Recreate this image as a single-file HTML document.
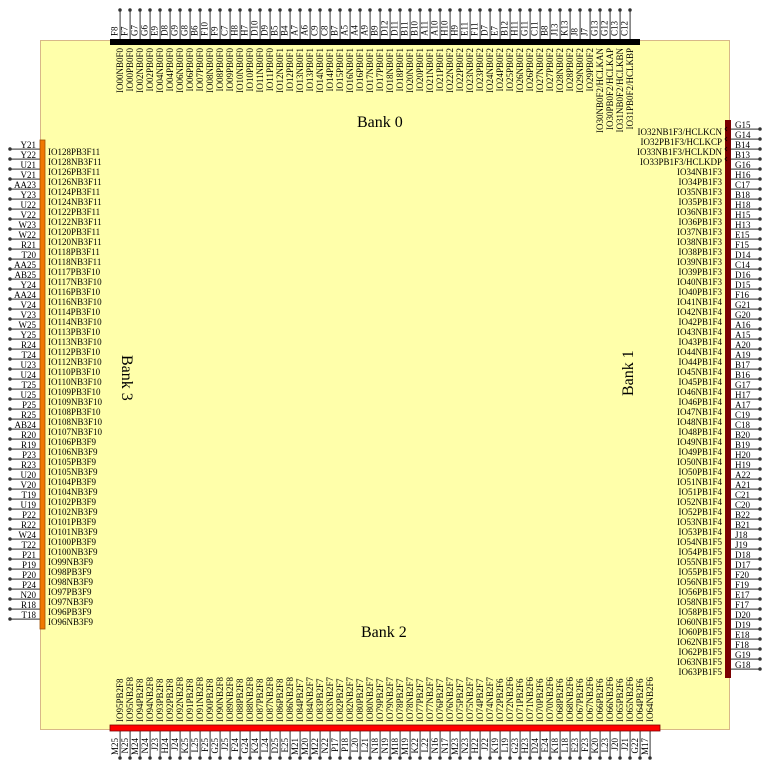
<!DOCTYPE html>
<html><head><meta charset="utf-8"><style>
html,body{margin:0;padding:0;background:#fff;width:770px;height:770px;overflow:hidden}
svg{display:block}
text{font-family:"Liberation Serif",serif;font-size:9px;fill:#000}
.bk{font-size:16px}
</style></head><body>
<svg width="770" height="770" viewBox="0 0 770 770" xmlns="http://www.w3.org/2000/svg">
<rect x="40.5" y="40.5" width="689" height="689" fill="#ffffaa" stroke="#d8b888" stroke-width="1"/>
<!-- pin lines via dash patterns -->
<g stroke="#555">
<line x1="119.5" y1="25" x2="631" y2="25" stroke-width="30" stroke-dasharray="1.2 8.8"/>
<line x1="119.5" y1="744" x2="651" y2="744" stroke-width="28" stroke-dasharray="1.2 8.8"/>
<line x1="25" y1="148.5" x2="25" y2="621" stroke-width="30" stroke-dasharray="1.2 8.8"/>
<line x1="745" y1="128.5" x2="745" y2="671" stroke-width="29" stroke-dasharray="1.2 8.8"/>
</g>
<g stroke="#333" stroke-linecap="round" stroke-width="3.5">
<line x1="120" y1="10" x2="631" y2="10" stroke-dasharray="0 10"/>
<line x1="120" y1="758" x2="651" y2="758" stroke-dasharray="0 10"/>
<line x1="10" y1="149" x2="10" y2="621" stroke-dasharray="0 10"/>
<line x1="760" y1="129" x2="760" y2="671" stroke-dasharray="0 10"/>
</g>
<!-- bars -->
<rect x="110" y="39" width="530" height="6" fill="#000"/>
<rect x="40" y="140" width="5" height="489" fill="#f07800" stroke="#a05000" stroke-width="0.8"/>
<rect x="725" y="120" width="6" height="558" fill="#7a0000"/>
<rect x="110" y="725" width="550" height="6" fill="#ff0000" stroke="#800000" stroke-width="0.8"/>
<g fill="none" stroke="#000" stroke-width="0.8">
<path d="M727 127l-2 2 2 2M727 137l-2 2 2 2M727 147l-2 2 2 2M727 157l-2 2 2 2"/>
</g>
<!-- bank labels -->
<text class="bk" x="357" y="127">Bank 0</text>
<text class="bk" x="361" y="637">Bank 2</text>
<text class="bk" transform="translate(122,355) rotate(90)">Bank 3</text>
<text class="bk" transform="translate(633,396) rotate(-90)">Bank 1</text>
<!-- top -->
<g transform="rotate(-90)">
<text text-anchor="start"><tspan x="-36" y="117.5">F8</tspan><tspan x="-36" y="127.5">F7</tspan><tspan x="-36" y="137.5">G7</tspan><tspan x="-36" y="147.5">G6</tspan><tspan x="-36" y="157.5">E9</tspan><tspan x="-36" y="167.5">D8</tspan><tspan x="-36" y="177.5">G9</tspan><tspan x="-36" y="187.5">G8</tspan><tspan x="-36" y="197.5">B6</tspan><tspan x="-36" y="207.5">F10</tspan><tspan x="-36" y="217.5">F9</tspan><tspan x="-36" y="227.5">C7</tspan><tspan x="-36" y="237.5">H8</tspan><tspan x="-36" y="247.5">H7</tspan><tspan x="-36" y="257.5">D10</tspan><tspan x="-36" y="267.5">D9</tspan><tspan x="-36" y="277.5">B5</tspan><tspan x="-36" y="287.5">B4</tspan><tspan x="-36" y="297.5">A7</tspan><tspan x="-36" y="307.5">A6</tspan><tspan x="-36" y="317.5">C9</tspan><tspan x="-36" y="327.5">C8</tspan><tspan x="-36" y="337.5">B7</tspan><tspan x="-36" y="347.5">A5</tspan><tspan x="-36" y="357.5">A4</tspan><tspan x="-36" y="367.5">A9</tspan><tspan x="-36" y="377.5">B9</tspan><tspan x="-36" y="387.5">D12</tspan><tspan x="-36" y="397.5">D11</tspan><tspan x="-36" y="407.5">B11</tspan><tspan x="-36" y="417.5">B10</tspan><tspan x="-36" y="427.5">A11</tspan><tspan x="-36" y="437.5">A10</tspan><tspan x="-36" y="447.5">H10</tspan><tspan x="-36" y="457.5">H9</tspan><tspan x="-36" y="467.5">E11</tspan><tspan x="-36" y="477.5">F11</tspan><tspan x="-36" y="487.5">D7</tspan><tspan x="-36" y="497.5">E7</tspan><tspan x="-36" y="507.5">B12</tspan><tspan x="-36" y="517.5">H11</tspan><tspan x="-36" y="527.5">G11</tspan><tspan x="-36" y="537.5">C11</tspan><tspan x="-36" y="547.5">B8</tspan><tspan x="-36" y="557.5">J13</tspan><tspan x="-36" y="567.5">K13</tspan><tspan x="-36" y="577.5">J8</tspan><tspan x="-36" y="587.5">J7</tspan><tspan x="-36" y="597.5">G13</tspan><tspan x="-36" y="607.5">G12</tspan><tspan x="-36" y="617.5">C13</tspan><tspan x="-36" y="627.5">C12</tspan></text>
<text text-anchor="end"><tspan x="-48" y="123">IO00NB0F0</tspan><tspan x="-48" y="133">IO00PB0F0</tspan><tspan x="-48" y="143">IO02NB0F0</tspan><tspan x="-48" y="153">IO02PB0F0</tspan><tspan x="-48" y="163">IO04NB0F0</tspan><tspan x="-48" y="173">IO04PB0F0</tspan><tspan x="-48" y="183">IO06NB0F0</tspan><tspan x="-48" y="193">IO06PB0F0</tspan><tspan x="-48" y="203">IO07PB0F0</tspan><tspan x="-48" y="213">IO08NB0F0</tspan><tspan x="-48" y="223">IO08PB0F0</tspan><tspan x="-48" y="233">IO09PB0F0</tspan><tspan x="-48" y="243">IO10NB0F0</tspan><tspan x="-48" y="253">IO10PB0F0</tspan><tspan x="-48" y="263">IO11NB0F0</tspan><tspan x="-48" y="273">IO11PB0F0</tspan><tspan x="-48" y="283">IO12NB0F1</tspan><tspan x="-48" y="293">IO12PB0F1</tspan><tspan x="-48" y="303">IO13NB0F1</tspan><tspan x="-48" y="313">IO13PB0F1</tspan><tspan x="-48" y="323">IO14NB0F1</tspan><tspan x="-48" y="333">IO14PB0F1</tspan><tspan x="-48" y="343">IO15PB0F1</tspan><tspan x="-48" y="353">IO16NB0F1</tspan><tspan x="-48" y="363">IO16PB0F1</tspan><tspan x="-48" y="373">IO17NB0F1</tspan><tspan x="-48" y="383">IO17PB0F1</tspan><tspan x="-48" y="393">IO18NB0F1</tspan><tspan x="-48" y="403">IO18PB0F1</tspan><tspan x="-48" y="413">IO20NB0F1</tspan><tspan x="-48" y="423">IO20PB0F1</tspan><tspan x="-48" y="433">IO21NB0F1</tspan><tspan x="-48" y="443">IO21PB0F1</tspan><tspan x="-48" y="453">IO22NB0F2</tspan><tspan x="-48" y="463">IO22PB0F2</tspan><tspan x="-48" y="473">IO23NB0F2</tspan><tspan x="-48" y="483">IO23PB0F2</tspan><tspan x="-48" y="493">IO24NB0F2</tspan><tspan x="-48" y="503">IO24PB0F2</tspan><tspan x="-48" y="513">IO25PB0F2</tspan><tspan x="-48" y="523">IO26NB0F2</tspan><tspan x="-48" y="533">IO26PB0F2</tspan><tspan x="-48" y="543">IO27NB0F2</tspan><tspan x="-48" y="553">IO27PB0F2</tspan><tspan x="-48" y="563">IO28NB0F2</tspan><tspan x="-48" y="573">IO28PB0F2</tspan><tspan x="-48" y="583">IO29NB0F2</tspan><tspan x="-48" y="593">IO29PB0F2</tspan><tspan x="-48" y="603">IO30NB0F2/HCLKAN</tspan><tspan x="-48" y="613">IO30PB0F2/HCLKAP</tspan><tspan x="-48" y="623">IO31NB0F2/HCLKBN</tspan><tspan x="-48" y="633">IO31PB0F2/HCLKBP</tspan></text>
<!-- bottom -->
<text text-anchor="end"><tspan x="-738" y="118">M25</tspan><tspan x="-738" y="128">N25</tspan><tspan x="-738" y="138">M24</tspan><tspan x="-738" y="148">N24</tspan><tspan x="-738" y="158">J23</tspan><tspan x="-738" y="168">H24</tspan><tspan x="-738" y="178">J24</tspan><tspan x="-738" y="188">K25</tspan><tspan x="-738" y="198">L25</tspan><tspan x="-738" y="208">F25</tspan><tspan x="-738" y="218">G25</tspan><tspan x="-738" y="228">J25</tspan><tspan x="-738" y="238">F24</tspan><tspan x="-738" y="248">G24</tspan><tspan x="-738" y="258">K24</tspan><tspan x="-738" y="268">L24</tspan><tspan x="-738" y="278">D25</tspan><tspan x="-738" y="288">E25</tspan><tspan x="-738" y="298">M21</tspan><tspan x="-738" y="308">M20</tspan><tspan x="-738" y="318">M22</tspan><tspan x="-738" y="328">N22</tspan><tspan x="-738" y="338">P17</tspan><tspan x="-738" y="348">P18</tspan><tspan x="-738" y="358">L20</tspan><tspan x="-738" y="368">L21</tspan><tspan x="-738" y="378">N18</tspan><tspan x="-738" y="388">N19</tspan><tspan x="-738" y="398">M18</tspan><tspan x="-738" y="408">M19</tspan><tspan x="-738" y="418">K22</tspan><tspan x="-738" y="428">L22</tspan><tspan x="-738" y="438">N16</tspan><tspan x="-738" y="448">N17</tspan><tspan x="-738" y="458">M23</tspan><tspan x="-738" y="468">N23</tspan><tspan x="-738" y="478">H22</tspan><tspan x="-738" y="488">J22</tspan><tspan x="-738" y="498">K19</tspan><tspan x="-738" y="508">L19</tspan><tspan x="-738" y="518">G23</tspan><tspan x="-738" y="528">H23</tspan><tspan x="-738" y="538">D24</tspan><tspan x="-738" y="548">E24</tspan><tspan x="-738" y="558">K18</tspan><tspan x="-738" y="568">L18</tspan><tspan x="-738" y="578">E23</tspan><tspan x="-738" y="588">F23</tspan><tspan x="-738" y="598">K20</tspan><tspan x="-738" y="608">L23</tspan><tspan x="-738" y="618">J20</tspan><tspan x="-738" y="628">J21</tspan><tspan x="-738" y="638">G22</tspan><tspan x="-738" y="648">M17</tspan></text>
<text text-anchor="start"><tspan x="-722" y="123">IO95PB2F8</tspan><tspan x="-722" y="133">IO95NB2F8</tspan><tspan x="-722" y="143">IO94PB2F8</tspan><tspan x="-722" y="153">IO94NB2F8</tspan><tspan x="-722" y="163">IO93PB2F8</tspan><tspan x="-722" y="173">IO92PB2F8</tspan><tspan x="-722" y="183">IO92NB2F8</tspan><tspan x="-722" y="193">IO91PB2F8</tspan><tspan x="-722" y="203">IO91NB2F8</tspan><tspan x="-722" y="213">IO90PB2F8</tspan><tspan x="-722" y="223">IO90NB2F8</tspan><tspan x="-722" y="233">IO89NB2F8</tspan><tspan x="-722" y="243">IO88PB2F8</tspan><tspan x="-722" y="253">IO88NB2F8</tspan><tspan x="-722" y="263">IO87PB2F8</tspan><tspan x="-722" y="273">IO87NB2F8</tspan><tspan x="-722" y="283">IO86PB2F8</tspan><tspan x="-722" y="293">IO86NB2F8</tspan><tspan x="-722" y="303">IO84PB2F7</tspan><tspan x="-722" y="313">IO84NB2F7</tspan><tspan x="-722" y="323">IO83PB2F7</tspan><tspan x="-722" y="333">IO83NB2F7</tspan><tspan x="-722" y="343">IO82PB2F7</tspan><tspan x="-722" y="353">IO82NB2F7</tspan><tspan x="-722" y="363">IO80PB2F7</tspan><tspan x="-722" y="373">IO80NB2F7</tspan><tspan x="-722" y="383">IO79PB2F7</tspan><tspan x="-722" y="393">IO79NB2F7</tspan><tspan x="-722" y="403">IO78PB2F7</tspan><tspan x="-722" y="413">IO78NB2F7</tspan><tspan x="-722" y="423">IO77PB2F7</tspan><tspan x="-722" y="433">IO77NB2F7</tspan><tspan x="-722" y="443">IO76PB2F7</tspan><tspan x="-722" y="453">IO76NB2F7</tspan><tspan x="-722" y="463">IO75PB2F7</tspan><tspan x="-722" y="473">IO75NB2F7</tspan><tspan x="-722" y="483">IO74PB2F7</tspan><tspan x="-722" y="493">IO74NB2F7</tspan><tspan x="-722" y="503">IO72PB2F6</tspan><tspan x="-722" y="513">IO72NB2F6</tspan><tspan x="-722" y="523">IO71PB2F6</tspan><tspan x="-722" y="533">IO71NB2F6</tspan><tspan x="-722" y="543">IO70PB2F6</tspan><tspan x="-722" y="553">IO70NB2F6</tspan><tspan x="-722" y="563">IO68PB2F6</tspan><tspan x="-722" y="573">IO68NB2F6</tspan><tspan x="-722" y="583">IO67PB2F6</tspan><tspan x="-722" y="593">IO67NB2F6</tspan><tspan x="-722" y="603">IO66PB2F6</tspan><tspan x="-722" y="613">IO66NB2F6</tspan><tspan x="-722" y="623">IO65PB2F6</tspan><tspan x="-722" y="633">IO65NB2F6</tspan><tspan x="-722" y="643">IO64PB2F6</tspan><tspan x="-722" y="653">IO64NB2F6</tspan></text>
</g>
<!-- left -->
<text text-anchor="end"><tspan x="36" y="148">Y21</tspan><tspan x="36" y="158">Y22</tspan><tspan x="36" y="168">U21</tspan><tspan x="36" y="178">V21</tspan><tspan x="36" y="188">AA23</tspan><tspan x="36" y="198">Y23</tspan><tspan x="36" y="208">U22</tspan><tspan x="36" y="218">V22</tspan><tspan x="36" y="228">W23</tspan><tspan x="36" y="238">W22</tspan><tspan x="36" y="248">R21</tspan><tspan x="36" y="258">T20</tspan><tspan x="36" y="268">AA25</tspan><tspan x="36" y="278">AB25</tspan><tspan x="36" y="288">Y24</tspan><tspan x="36" y="298">AA24</tspan><tspan x="36" y="308">V24</tspan><tspan x="36" y="318">V23</tspan><tspan x="36" y="328">W25</tspan><tspan x="36" y="338">Y25</tspan><tspan x="36" y="348">R24</tspan><tspan x="36" y="358">T24</tspan><tspan x="36" y="368">U23</tspan><tspan x="36" y="378">U24</tspan><tspan x="36" y="388">T25</tspan><tspan x="36" y="398">U25</tspan><tspan x="36" y="408">P25</tspan><tspan x="36" y="418">R25</tspan><tspan x="36" y="428">AB24</tspan><tspan x="36" y="438">R20</tspan><tspan x="36" y="448">R19</tspan><tspan x="36" y="458">P23</tspan><tspan x="36" y="468">R23</tspan><tspan x="36" y="478">U20</tspan><tspan x="36" y="488">V20</tspan><tspan x="36" y="498">T19</tspan><tspan x="36" y="508">U19</tspan><tspan x="36" y="518">P22</tspan><tspan x="36" y="528">R22</tspan><tspan x="36" y="538">W24</tspan><tspan x="36" y="548">T22</tspan><tspan x="36" y="558">P21</tspan><tspan x="36" y="568">P19</tspan><tspan x="36" y="578">P20</tspan><tspan x="36" y="588">P24</tspan><tspan x="36" y="598">N20</tspan><tspan x="36" y="608">R18</tspan><tspan x="36" y="618">T18</tspan></text>
<text text-anchor="start"><tspan x="48" y="155">IO128PB3F11</tspan><tspan x="48" y="165">IO128NB3F11</tspan><tspan x="48" y="175">IO126PB3F11</tspan><tspan x="48" y="185">IO126NB3F11</tspan><tspan x="48" y="195">IO124PB3F11</tspan><tspan x="48" y="205">IO124NB3F11</tspan><tspan x="48" y="215">IO122PB3F11</tspan><tspan x="48" y="225">IO122NB3F11</tspan><tspan x="48" y="235">IO120PB3F11</tspan><tspan x="48" y="245">IO120NB3F11</tspan><tspan x="48" y="255">IO118PB3F11</tspan><tspan x="48" y="265">IO118NB3F11</tspan><tspan x="48" y="275">IO117PB3F10</tspan><tspan x="48" y="285">IO117NB3F10</tspan><tspan x="48" y="295">IO116PB3F10</tspan><tspan x="48" y="305">IO116NB3F10</tspan><tspan x="48" y="315">IO114PB3F10</tspan><tspan x="48" y="325">IO114NB3F10</tspan><tspan x="48" y="335">IO113PB3F10</tspan><tspan x="48" y="345">IO113NB3F10</tspan><tspan x="48" y="355">IO112PB3F10</tspan><tspan x="48" y="365">IO112NB3F10</tspan><tspan x="48" y="375">IO110PB3F10</tspan><tspan x="48" y="385">IO110NB3F10</tspan><tspan x="48" y="395">IO109PB3F10</tspan><tspan x="48" y="405">IO109NB3F10</tspan><tspan x="48" y="415">IO108PB3F10</tspan><tspan x="48" y="425">IO108NB3F10</tspan><tspan x="48" y="435">IO107NB3F10</tspan><tspan x="48" y="445">IO106PB3F9</tspan><tspan x="48" y="455">IO106NB3F9</tspan><tspan x="48" y="465">IO105PB3F9</tspan><tspan x="48" y="475">IO105NB3F9</tspan><tspan x="48" y="485">IO104PB3F9</tspan><tspan x="48" y="495">IO104NB3F9</tspan><tspan x="48" y="505">IO102PB3F9</tspan><tspan x="48" y="515">IO102NB3F9</tspan><tspan x="48" y="525">IO101PB3F9</tspan><tspan x="48" y="535">IO101NB3F9</tspan><tspan x="48" y="545">IO100PB3F9</tspan><tspan x="48" y="555">IO100NB3F9</tspan><tspan x="48" y="565">IO99NB3F9</tspan><tspan x="48" y="575">IO98PB3F9</tspan><tspan x="48" y="585">IO98NB3F9</tspan><tspan x="48" y="595">IO97PB3F9</tspan><tspan x="48" y="605">IO97NB3F9</tspan><tspan x="48" y="615">IO96PB3F9</tspan><tspan x="48" y="625">IO96NB3F9</tspan></text>
<!-- right -->
<text text-anchor="start"><tspan x="735" y="128">G15</tspan><tspan x="735" y="138">G14</tspan><tspan x="735" y="148">B14</tspan><tspan x="735" y="158">B13</tspan><tspan x="735" y="168">G16</tspan><tspan x="735" y="178">H16</tspan><tspan x="735" y="188">C17</tspan><tspan x="735" y="198">B18</tspan><tspan x="735" y="208">H18</tspan><tspan x="735" y="218">H15</tspan><tspan x="735" y="228">H13</tspan><tspan x="735" y="238">E15</tspan><tspan x="735" y="248">F15</tspan><tspan x="735" y="258">D14</tspan><tspan x="735" y="268">C14</tspan><tspan x="735" y="278">D16</tspan><tspan x="735" y="288">D15</tspan><tspan x="735" y="298">F16</tspan><tspan x="735" y="308">G21</tspan><tspan x="735" y="318">G20</tspan><tspan x="735" y="328">A16</tspan><tspan x="735" y="338">A15</tspan><tspan x="735" y="348">A20</tspan><tspan x="735" y="358">A19</tspan><tspan x="735" y="368">B17</tspan><tspan x="735" y="378">B16</tspan><tspan x="735" y="388">G17</tspan><tspan x="735" y="398">H17</tspan><tspan x="735" y="408">A17</tspan><tspan x="735" y="418">C19</tspan><tspan x="735" y="428">C18</tspan><tspan x="735" y="438">B20</tspan><tspan x="735" y="448">B19</tspan><tspan x="735" y="458">H20</tspan><tspan x="735" y="468">H19</tspan><tspan x="735" y="478">A22</tspan><tspan x="735" y="488">A21</tspan><tspan x="735" y="498">C21</tspan><tspan x="735" y="508">C20</tspan><tspan x="735" y="518">B22</tspan><tspan x="735" y="528">B21</tspan><tspan x="735" y="538">J18</tspan><tspan x="735" y="548">J19</tspan><tspan x="735" y="558">D18</tspan><tspan x="735" y="568">D17</tspan><tspan x="735" y="578">F20</tspan><tspan x="735" y="588">F19</tspan><tspan x="735" y="598">E17</tspan><tspan x="735" y="608">F17</tspan><tspan x="735" y="618">D20</tspan><tspan x="735" y="628">D19</tspan><tspan x="735" y="638">E18</tspan><tspan x="735" y="648">F18</tspan><tspan x="735" y="658">G19</tspan><tspan x="735" y="668">G18</tspan></text>
<text text-anchor="end"><tspan x="722" y="135">IO32NB1F3/HCLKCN</tspan><tspan x="722" y="145">IO32PB1F3/HCLKCP</tspan><tspan x="722" y="155">IO33NB1F3/HCLKDN</tspan><tspan x="722" y="165">IO33PB1F3/HCLKDP</tspan><tspan x="722" y="175">IO34NB1F3</tspan><tspan x="722" y="185">IO34PB1F3</tspan><tspan x="722" y="195">IO35NB1F3</tspan><tspan x="722" y="205">IO35PB1F3</tspan><tspan x="722" y="215">IO36NB1F3</tspan><tspan x="722" y="225">IO36PB1F3</tspan><tspan x="722" y="235">IO37NB1F3</tspan><tspan x="722" y="245">IO38NB1F3</tspan><tspan x="722" y="255">IO38PB1F3</tspan><tspan x="722" y="265">IO39NB1F3</tspan><tspan x="722" y="275">IO39PB1F3</tspan><tspan x="722" y="285">IO40NB1F3</tspan><tspan x="722" y="295">IO40PB1F3</tspan><tspan x="722" y="305">IO41NB1F4</tspan><tspan x="722" y="315">IO42NB1F4</tspan><tspan x="722" y="325">IO42PB1F4</tspan><tspan x="722" y="335">IO43NB1F4</tspan><tspan x="722" y="345">IO43PB1F4</tspan><tspan x="722" y="355">IO44NB1F4</tspan><tspan x="722" y="365">IO44PB1F4</tspan><tspan x="722" y="375">IO45NB1F4</tspan><tspan x="722" y="385">IO45PB1F4</tspan><tspan x="722" y="395">IO46NB1F4</tspan><tspan x="722" y="405">IO46PB1F4</tspan><tspan x="722" y="415">IO47NB1F4</tspan><tspan x="722" y="425">IO48NB1F4</tspan><tspan x="722" y="435">IO48PB1F4</tspan><tspan x="722" y="445">IO49NB1F4</tspan><tspan x="722" y="455">IO49PB1F4</tspan><tspan x="722" y="465">IO50NB1F4</tspan><tspan x="722" y="475">IO50PB1F4</tspan><tspan x="722" y="485">IO51NB1F4</tspan><tspan x="722" y="495">IO51PB1F4</tspan><tspan x="722" y="505">IO52NB1F4</tspan><tspan x="722" y="515">IO52PB1F4</tspan><tspan x="722" y="525">IO53NB1F4</tspan><tspan x="722" y="535">IO53PB1F4</tspan><tspan x="722" y="545">IO54NB1F5</tspan><tspan x="722" y="555">IO54PB1F5</tspan><tspan x="722" y="565">IO55NB1F5</tspan><tspan x="722" y="575">IO55PB1F5</tspan><tspan x="722" y="585">IO56NB1F5</tspan><tspan x="722" y="595">IO56PB1F5</tspan><tspan x="722" y="605">IO58NB1F5</tspan><tspan x="722" y="615">IO58PB1F5</tspan><tspan x="722" y="625">IO60NB1F5</tspan><tspan x="722" y="635">IO60PB1F5</tspan><tspan x="722" y="645">IO62NB1F5</tspan><tspan x="722" y="655">IO62PB1F5</tspan><tspan x="722" y="665">IO63NB1F5</tspan><tspan x="722" y="675">IO63PB1F5</tspan></text>
</svg>
</body></html>
